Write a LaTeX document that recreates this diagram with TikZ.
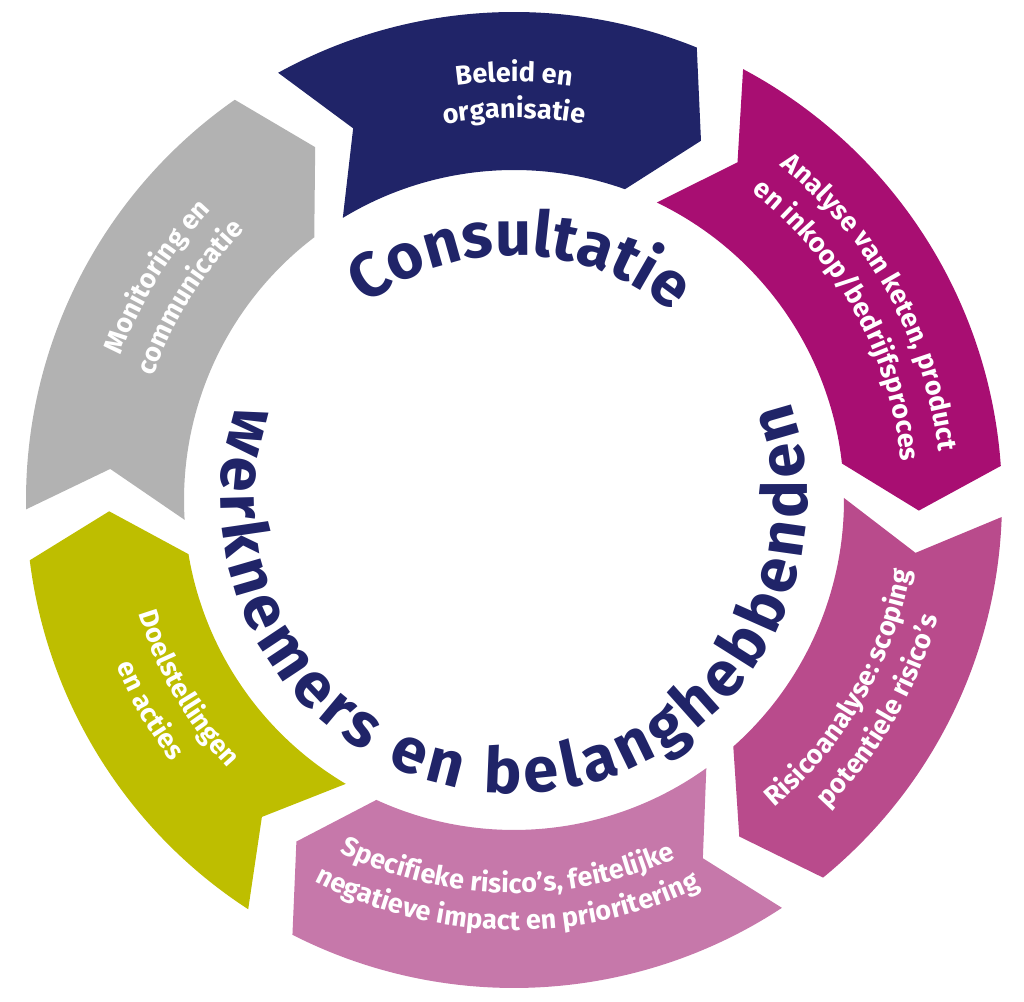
\documentclass[tikz,border=0pt]{standalone}
\usepackage{fontspec}
\setmainfont{Fira Sans}
\usetikzlibrary{decorations.text}
\definecolor{ringnavy}{RGB}{32,36,104}
\definecolor{ringmagenta}{RGB}{168,14,114}
\definecolor{ringmauve}{RGB}{185,75,140}
\definecolor{ringpink}{RGB}{198,120,170}
\definecolor{ringolive}{RGB}{190,190,0}
\definecolor{ringgrey}{RGB}{178,178,178}
\newcommand{\segfont}{\fontsize{7.7}{9}\selectfont\bfseries}
\newcommand{\bigfont}{\fontsize{18}{20}\selectfont\bfseries}

\begin{document}
\begin{tikzpicture}[
    segtext/.style={decorate,decoration={text along path,text align=center,
                    text color=white,text={|\segfont|#1}}},
    bigtext/.style={decorate,decoration={text along path,text align={fit to path},
                    text color=ringnavy,text={|\bigfont|#1}}},
    toptext/.style={decorate,decoration={text along path,text align=center,
                    text color=ringnavy,text={|\bigfont|#1}}}]
  \useasboundingbox (-5.14,-5.02) rectangle (5.10,5.00);
  \def\rin{3.30}
  \def\rmid{4.05}
  \def\rout{4.88}
  % ring segments: colour / notch angle / point angle
  \foreach \col/\na/\pa in {ringnavy/113.4/62.5, ringmagenta/56.5/-1.5,
      ringmauve/-7.5/-56.2, ringpink/-62.2/-122.5,
      ringolive/-128.5/-178.4, ringgrey/175.6/119.4}
    \fill[fill=\col] ({\na+5.5}:\rout) arc[start angle={\na+5.5},end angle={\pa+5.5},radius=\rout]
      -- (\pa:\rmid) -- ({\pa+7.85}:\rin)
      arc[start angle={\pa+7.85},end angle={\na+7.85},radius=\rin]
      -- (\na:\rmid) -- cycle;

  % labels in the ring, top half read clockwise
  \path[segtext={Beleid en}] (135:4.18) arc[start angle=135,end angle=45,radius=4.18];
  \path[segtext={organisatie}] (135:3.82) arc[start angle=135,end angle=45,radius=3.82];
  \path[segtext={Analyse van keten, product}] (74:4.27) arc[start angle=74,end angle=-16,radius=4.27];
  \path[segtext={en inkoop/bedrijfsproces}] (74:3.89) arc[start angle=74,end angle=-16,radius=3.89];
  \path[segtext={Monitoring en}] (193:4.19) arc[start angle=193,end angle=103,radius=4.19];
  \path[segtext={communicatie}] (193:3.81) arc[start angle=193,end angle=103,radius=3.81];
  % bottom half read counterclockwise
  \path[segtext={Risicoanalyse: scoping}] (-75:4.03) arc[start angle=-75,end angle=15,radius=4.03];
  \path[segtext={potentiele risico’s}] (-75:4.40) arc[start angle=-75,end angle=15,radius=4.40];
  \path[segtext={Specifieke risico’s, feitelijke}] (-136:3.93) arc[start angle=-136,end angle=-46,radius=3.93];
  \path[segtext={negatieve impact en prioritering}] (-136:4.30) arc[start angle=-136,end angle=-46,radius=4.30];
  \path[segtext={Doelstellingen}] (-195:3.92) arc[start angle=-195,end angle=-105,radius=3.92];
  \path[segtext={en acties}] (-195:4.31) arc[start angle=-195,end angle=-105,radius=4.31];

  % inner texts
  \path[toptext={Consultatie}] (150:2.45) arc[start angle=150,end angle=27,radius=2.45];
  \path[bigtext={werknemers en belanghebbenden}] (161:2.93) arc[start angle=161,end angle=379.7,radius=2.93];
\end{tikzpicture}
\end{document}
